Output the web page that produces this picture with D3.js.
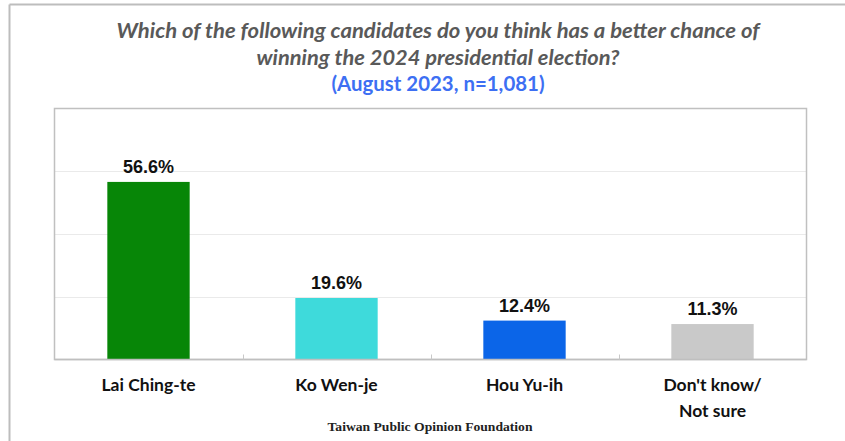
<!DOCTYPE html>
<html>
<head>
<meta charset="utf-8">
<script src="https://cdn.jsdelivr.net/npm/d3@7"></script>
<style>
  html, body { margin: 0; padding: 0; background: #fff; }
  svg { display: block; }
</style>
</head>
<body>
<svg id="chart" width="845" height="441"></svg>
<script>
const categories = ["Lai Ching-te", "Ko Wen-je", "Hou Yu-ih", "Don't know/\nNot sure"];
const values = [56.6, 19.6, 12.4, 11.3];
const barColors = ["#078607", "#3EDADB", "#0B65E8", "#C9C9C9"];
const gridTicks = [20, 40, 60];
const titleLines = ["Which of the following candidates do you think has a better chance of",
                    "winning the 2024 presidential election?"];
const subtitle = "(August 2023, n=1,081)";
const footer = "Taiwan Public Opinion Foundation";

const svg = d3.select("#chart");
const W = 845, H = 441;
const plot = {left: 54.5, right: 806.5, top: 108.5, bottom: 359.5};

// outer frame (top and left)
svg.append("line").attr("x1", 9.5).attr("x2", W).attr("y1", 4.5).attr("y2", 4.5)
  .attr("stroke", "#BDBDBD").attr("stroke-width", 2);
svg.append("line").attr("x1", 9.5).attr("x2", 9.5).attr("y1", 4.5).attr("y2", H)
  .attr("stroke", "#BDBDBD").attr("stroke-width", 2);

// title
const cx = 438;
svg.append("text").attr("x", cx).attr("y", 38).attr("text-anchor", "middle")
  .attr("font-family", "Lato, 'Open Sans', sans-serif").attr("font-style", "italic").attr("font-weight", "bold")
  .attr("font-size", 20.5).attr("fill", "#595959")
  .attr("textLength", 643).attr("lengthAdjust", "spacingAndGlyphs")
  .text(titleLines[0]);
svg.append("text").attr("x", cx).attr("y", 65).attr("text-anchor", "middle")
  .attr("font-family", "Lato, 'Open Sans', sans-serif").attr("font-style", "italic").attr("font-weight", "bold")
  .attr("font-size", 20.5).attr("fill", "#595959")
  .attr("textLength", 363).attr("lengthAdjust", "spacingAndGlyphs")
  .text(titleLines[1]);
svg.append("text").attr("x", cx).attr("y", 91).attr("text-anchor", "middle")
  .attr("font-family", "Lato, 'Open Sans', sans-serif").attr("font-weight", "bold")
  .attr("font-size", 20.5).attr("fill", "#3D6FF3")
  .attr("textLength", 213).attr("lengthAdjust", "spacingAndGlyphs")
  .text(subtitle);

// scales
const x = d3.scaleBand().domain(categories).range([plot.left, plot.right])
  .paddingInner(0.562).paddingOuter(0.281);
const y = d3.scaleLinear().domain([0, 80]).range([plot.bottom, plot.top]);

// gridlines
svg.append("g").selectAll("line").data(gridTicks).join("line")
  .attr("x1", plot.left).attr("x2", plot.right)
  .attr("y1", d => Math.round(y(d)) + 0.5).attr("y2", d => Math.round(y(d)) + 0.5)
  .attr("stroke", "#EAEAEA").attr("stroke-width", 1);

// plot border
svg.append("rect").attr("x", plot.left).attr("y", plot.top)
  .attr("width", plot.right - plot.left).attr("height", plot.bottom - plot.top)
  .attr("fill", "none").attr("stroke", "#C0C0C0").attr("stroke-width", 1.5);

// bars
svg.append("g").selectAll("rect").data(values).join("rect")
  .attr("x", (d, i) => x(categories[i]))
  .attr("width", x.bandwidth())
  .attr("y", d => y(d))
  .attr("height", d => y(0) - y(d))
  .attr("fill", (d, i) => barColors[i]);

// bottom axis line (over bars)
svg.append("line").attr("x1", plot.left).attr("x2", plot.right)
  .attr("y1", plot.bottom).attr("y2", plot.bottom)
  .attr("stroke", "#BFBFBF").attr("stroke-width", 1.5);

// separator ticks
const step = x.step();
svg.append("g").selectAll("line").data(categories.slice(1)).join("line")
  .attr("x1", d => Math.round(x(d) - step * x.paddingInner() / 2) + 0.5)
  .attr("x2", d => Math.round(x(d) - step * x.paddingInner() / 2) + 0.5)
  .attr("y1", plot.bottom).attr("y2", plot.bottom - 5)
  .attr("stroke", "#C8C8C8").attr("stroke-width", 1);

// value labels
svg.append("g").selectAll("text").data(values).join("text")
  .attr("x", (d, i) => x(categories[i]) + x.bandwidth() / 2)
  .attr("y", d => y(d) - 9)
  .attr("text-anchor", "middle")
  .attr("font-family", "'Liberation Sans', Arial, sans-serif").attr("font-weight", "bold")
  .attr("font-size", 18).attr("fill", "#111")
  .text(d => d.toFixed(1) + "%");

// category axis
const axis = svg.append("g").attr("transform", `translate(0,${plot.bottom})`)
  .call(d3.axisBottom(x).tickSize(0).tickPadding(0));
axis.select(".domain").remove();
axis.selectAll("text").each(function(d) {
  const t = d3.select(this);
  const lines = d.split("\n");
  t.text(null).attr("y", 0).attr("dy", null)
    .attr("font-family", "Lato, 'Open Sans', sans-serif").attr("font-weight", "bold")
    .attr("font-size", 17.5).attr("fill", "#111");
  lines.forEach((ln, k) => {
    t.append("tspan").attr("x", 0).attr("y", 31 + k * 26).text(ln);
  });
});

// footer
svg.append("text").attr("x", 430).attr("y", 431).attr("text-anchor", "middle")
  .attr("font-family", "'Liberation Serif', 'DejaVu Serif', serif").attr("font-weight", "bold")
  .attr("font-size", 13).attr("fill", "#222")
  .attr("textLength", 205).attr("lengthAdjust", "spacingAndGlyphs")
  .text(footer);
</script>
</body>
</html>
